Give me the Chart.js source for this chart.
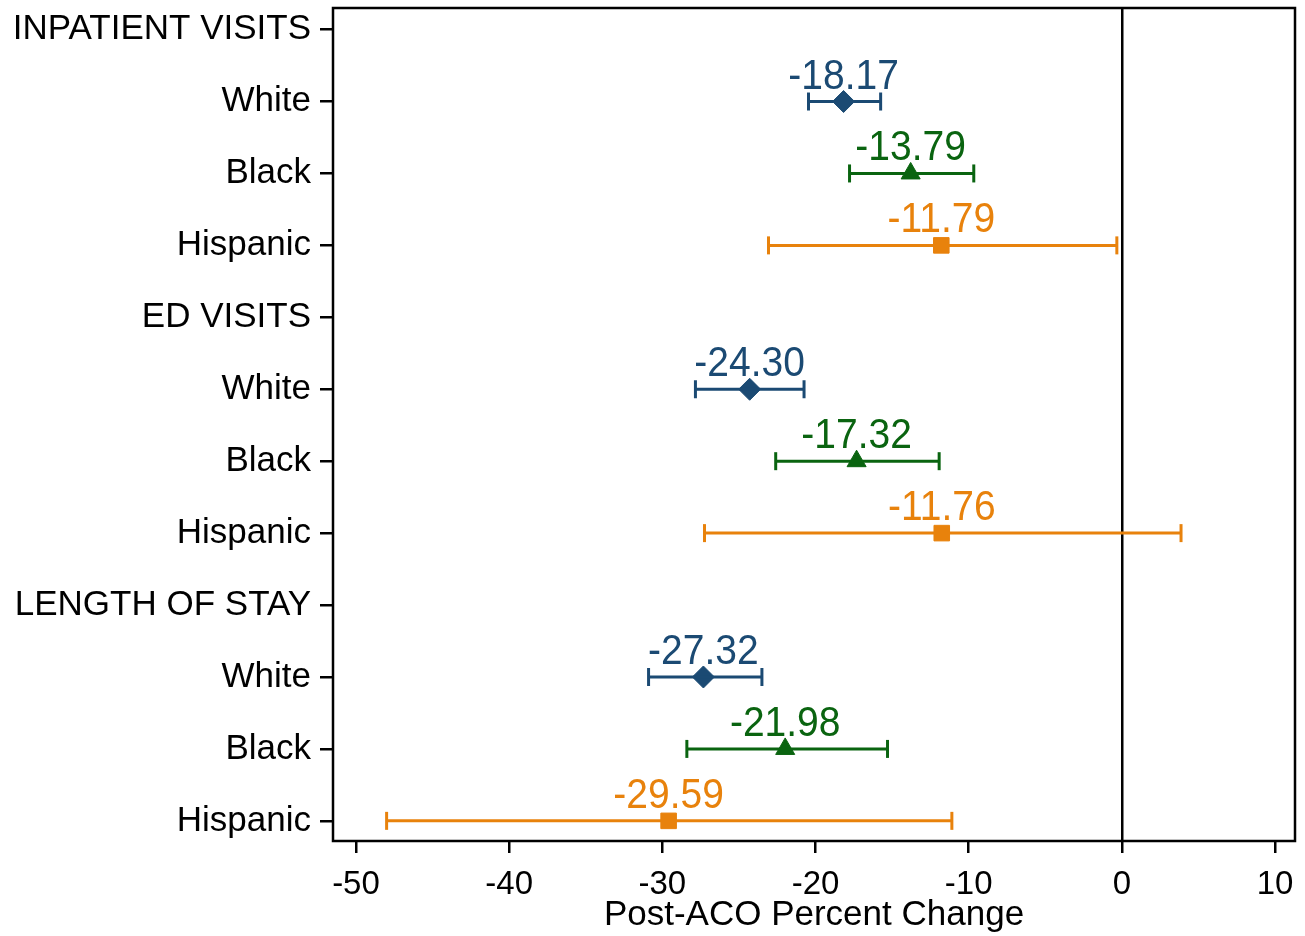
<!DOCTYPE html>
<html>
<head>
<meta charset="utf-8">
<script src="https://cdn.jsdelivr.net/npm/chart.js@4"></script>
<style>
  html, body { margin: 0; padding: 0; background: #fff; }
  #wrap { width: 1305px; height: 936px; }
</style>
</head>
<body>
<div id="wrap"><canvas id="grafico"></canvas></div>
<script>
// row labels on the y axis, top to bottom
const rowLabels = ['INPATIENT VISITS', 'White', 'Black', 'Hispanic',
                   'ED VISITS', 'White', 'Black', 'Hispanic',
                   'LENGTH OF STAY', 'White', 'Black', 'Hispanic']
const xTicks = [-50, -40, -30, -20, -10, 0, 10]

// estimates and 95% CI per outcome (inpatient, ED, length of stay)
const whiteRows = [1, 5, 9]
const whiteEst = [-18.17, -24.30, -27.32]
const whiteLo = [-20.46, -27.84, -30.9]
const whiteHi = [-15.75, -20.75, -23.5]

const blackRows = [2, 6, 10]
const blackEst = [-13.79, -17.32, -21.98]
const blackLo = [-17.78, -22.6, -28.4]
const blackHi = [-9.67, -11.93, -15.3]

const hispRows = [3, 7, 11]
const hispEst = [-11.79, -11.76, -29.59]
const hispLo = [-23.07, -27.25, -48.0]
const hispHi = [-0.33, 3.86, -11.1]

const azul = '#1b4a73'
const verde = '#0a6410'
const laranja = '#e8820c'

const grupos = [
    { rows: whiteRows, est: whiteEst, lo: whiteLo, hi: whiteHi, cor: azul, estilo: 'rectRot', raio: 11 },
    { rows: blackRows, est: blackEst, lo: blackLo, hi: blackHi, cor: verde, estilo: 'triangle', raio: 11 },
    { rows: hispRows, est: hispEst, lo: hispLo, hi: hispHi, cor: laranja, estilo: 'rect', raio: 11 }
]

let datasets = []
// error bars first, one dataset per row
grupos.forEach(g => {
    g.rows.forEach((r, i) => {
        datasets.push({
            data: [{ x: g.lo[i], y: r }, { x: g.hi[i], y: r }],
            showLine: true,
            borderColor: g.cor,
            borderWidth: 3,
            pointStyle: 'line',
            pointRotation: 90,
            pointRadius: 9,
            pointBorderWidth: 3,
            pointBorderColor: g.cor
        })
    })
})
// markers
grupos.forEach(g => {
    datasets.push({
        data: g.rows.map((r, i) => ({ x: g.est[i], y: r })),
        showLine: false,
        pointStyle: g.estilo,
        pointRadius: g.raio,
        backgroundColor: g.cor,
        borderColor: g.cor,
        pointBorderWidth: 1,
        rotulo: true,
        cor: g.cor
    })
})

const rotulos = {
    id: 'rotulos',
    afterDatasetsDraw(chart) {
        const c = chart.ctx
        chart.data.datasets.forEach((ds, di) => {
            if (!ds.rotulo) return
            chart.getDatasetMeta(di).data.forEach((pt, i) => {
                c.save()
                c.font = '39px "Liberation Sans", Arial, sans-serif'
                c.textAlign = 'center'
                c.textBaseline = 'alphabetic'
                c.fillStyle = ds.cor
                c.translate(pt.x, pt.y - 13)
                c.scale(1, 1.1)
                c.fillText(ds.data[i].x.toFixed(2), 0, 0)
                c.restore()
            })
        })
        // frame around plot area
        const a = chart.chartArea
        c.save()
        c.strokeStyle = '#000'
        c.lineWidth = 2.5
        c.strokeRect(a.left, a.top, a.right - a.left, a.bottom - a.top)
        c.restore()
    }
}

const fonte = { family: '"Liberation Sans", Arial, sans-serif', size: 35 }
const fonteX = { family: '"Liberation Sans", Arial, sans-serif', size: 33 }

new Chart(document.getElementById('grafico'), {
    type: 'scatter',
    data: { datasets: datasets },
    options: {
        responsive: true,
        maintainAspectRatio: false,
        animation: false,
        layout: { autoPadding: false, padding: { top: 8, right: 10, left: 0, bottom: 0 } },
        plugins: { legend: { display: false }, tooltip: { enabled: false } },
        scales: {
            x: {
                type: 'linear',
                min: -51.5,
                max: 11.3,
                afterBuildTicks: s => { s.ticks = xTicks.map(v => ({ value: v })) },
                afterFit: s => { s.height = 95; s.paddingLeft = 0; s.paddingRight = 0 },
                ticks: { color: '#000', font: fonteX, padding: 12, maxRotation: 0 },
                grid: {
                    color: ctx => (ctx.tick && ctx.tick.value === 0) ? '#000' : 'rgba(0,0,0,0)',
                    lineWidth: 2.5,
                    tickColor: '#000',
                    tickLength: 12,
                    drawTicks: true
                },
                border: { display: false },
                title: {
                    display: true,
                    text: 'Post-ACO Percent Change',
                    color: '#000',
                    font: fonte,
                    padding: { top: 0, bottom: 0 }
                }
            },
            y: {
                type: 'linear',
                reverse: true,
                min: -0.3,
                max: 11.28,
                afterBuildTicks: s => { s.ticks = rowLabels.map((_, i) => ({ value: i })) },
                afterFit: s => { s.width = 333; s.paddingTop = 0; s.paddingBottom = 0 },
                ticks: {
                    color: '#000',
                    font: fonte,
                    padding: 9,
                    callback: v => rowLabels[v]
                },
                grid: {
                    drawOnChartArea: false,
                    tickColor: '#000',
                    tickLength: 13,
                    lineWidth: 2.5
                },
                border: { display: false }
            }
        }
    },
    plugins: [rotulos]
})
</script>
</body>
</html>
